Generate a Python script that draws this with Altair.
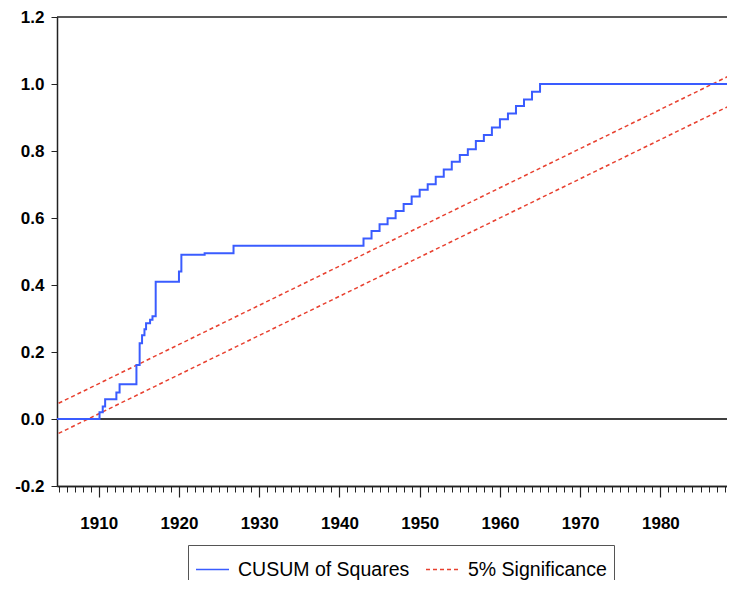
import altair as alt
import pandas as pd

# ---- data ----
series_names = ["CUSUM of Squares", "5% Significance"]

blue_years = [1904.8, 1910.1, 1910.5, 1910.8, 1912.2, 1912.6, 1914.7, 1915.1,
              1915.4, 1915.7, 1915.9, 1916.4, 1916.7, 1917.1, 1920.0, 1920.3,
              1923.2, 1926.8,
              1943, 1944, 1945, 1946, 1947, 1948, 1949, 1950, 1951, 1952, 1953,
              1954, 1955, 1956, 1957, 1958, 1959, 1960, 1961, 1962, 1963, 1964,
              1965, 1990]
blue_values = [0.0, 0.02, 0.037, 0.059, 0.079, 0.104, 0.161, 0.226,
               0.25, 0.268, 0.286, 0.296, 0.307, 0.41, 0.44, 0.49,
               0.495, 0.517,
               0.539, 0.561, 0.581, 0.599, 0.621, 0.642, 0.664, 0.684, 0.701,
               0.723, 0.745, 0.768, 0.788, 0.805, 0.830, 0.848, 0.870, 0.895,
               0.912, 0.934, 0.954, 0.977, 1.0, 1.0]

sig_years = [1905, 1990]
sig_upper = [0.047, 1.041]
sig_lower = [-0.043, 0.951]

zero_level = [0.0]

x_domain = [1904.8, 1988.3]
major_years = [1910, 1920, 1930, 1940, 1950, 1960, 1970, 1980]
minor_years = list(range(1905, 1989))
y_ticks = [-0.2, 0.0, 0.2, 0.4, 0.6, 0.8, 1.0, 1.2]

# ---- tables ----
blue_df = pd.DataFrame({"year": blue_years, "value": blue_values,
                        "series": series_names[0]})
red_df = pd.concat([
    pd.DataFrame({"year": sig_years, "value": sig_upper, "band": "upper",
                  "series": series_names[1]}),
    pd.DataFrame({"year": sig_years, "value": sig_lower, "band": "lower",
                  "series": series_names[1]}),
])
zero_df = pd.DataFrame({"v": zero_level})

AX_FONT = "Liberation Sans, Arial, sans-serif"
LEG_FONT = "Liberation Sans, Arial, sans-serif"
AX_COLOR = "#222222"
AX_SIZE = 17

xscale = alt.Scale(domain=x_domain, nice=False, zero=False)
yscale = alt.Scale(domain=[-0.2, 1.2], nice=False, zero=False)
color_scale = alt.Scale(domain=series_names, range=["#3a5cff", "#e8402f"])
dash_scale = alt.Scale(domain=series_names, range=[[1, 0], [4, 3]])

y_axis = alt.Axis(values=y_ticks, title=None, grid=False, tickSize=6,
                  tickColor=AX_COLOR, domainColor=AX_COLOR, domainWidth=1.5,
                  labelPadding=7, labelFont=AX_FONT, labelFontSize=AX_SIZE,
                  labelFontWeight="bold", labelColor="black",
                  labelExpr="datum.value < 0 ? '-' + format(-datum.value, '.1f') : format(datum.value, '.1f')")
x_major_axis = alt.Axis(orient="bottom", values=major_years, format="d",
                        title=None, grid=False, tickSize=11, tickWidth=1.2,
                        tickColor=AX_COLOR, domainColor=AX_COLOR,
                        domainWidth=1.5, labelFont=AX_FONT,
                        labelFontSize=AX_SIZE, labelFontWeight="bold",
                        labelColor="black", labelPadding=18,
                        labelFlush=False, labelOverlap=False)
x_minor_axis = alt.Axis(orient="bottom", values=minor_years, labels=False,
                        title=None, grid=False, tickSize=6, tickWidth=1,
                        tickColor=AX_COLOR, domainColor=AX_COLOR,
                        domainWidth=1.5)

legend = alt.Legend(title=None, orient="none", legendX=131, legendY=528,
                    direction="horizontal", symbolType="stroke",
                    symbolSize=1089, symbolStrokeWidth=1.5,
                    labelFont=LEG_FONT, labelFontSize=19.5, labelColor="black",
                    labelOffset=8, columnPadding=13, padding=7,
                    strokeColor="#555555", fillColor="white", labelLimit=400)

zero = alt.Chart(zero_df).mark_rule(color="black", strokeWidth=1.5).encode(
    y=alt.Y("v:Q", scale=yscale, axis=y_axis)
)

red = alt.Chart(red_df).mark_line(strokeWidth=1.5, clip=True).encode(
    x=alt.X("year:Q", scale=xscale, axis=x_minor_axis),
    y=alt.Y("value:Q", scale=yscale, axis=y_axis),
    color=alt.Color("series:N", scale=color_scale, legend=legend),
    strokeDash=alt.StrokeDash("series:N", scale=dash_scale, legend=legend),
    detail="band:N",
)

blue = alt.Chart(blue_df).mark_line(interpolate="step-after", strokeWidth=2,
                                    clip=True).encode(
    x=alt.X("year:Q", scale=xscale, axis=x_major_axis),
    y=alt.Y("value:Q", scale=yscale, axis=y_axis),
    color=alt.Color("series:N", scale=color_scale, legend=legend),
    strokeDash=alt.StrokeDash("series:N", scale=dash_scale, legend=legend),
)

top_frame = alt.Chart(zero_df).mark_rule(color=AX_COLOR, strokeWidth=1.5).encode(
    y=alt.value(0)
)

chart = alt.layer(zero, red, blue, top_frame).resolve_axis(
    x="independent"
).properties(
    width=670, height=469,
    autosize=alt.AutoSizeParams(type="none"),
    padding={"left": 49, "top": 9, "right": 0, "bottom": 94},
).configure_view(stroke=None)

chart.save("out.html", embed_options={"renderer": "svg", "actions": False})
